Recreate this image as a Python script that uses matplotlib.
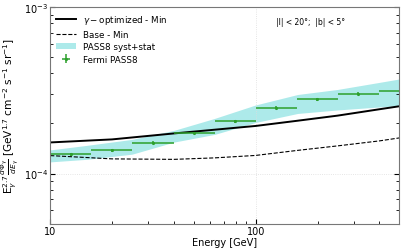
import numpy as np
import matplotlib
matplotlib.use("Agg")
import matplotlib.pyplot as plt
from matplotlib.ticker import FixedLocator, FixedFormatter, NullFormatter

# Fermi PASS8 data points (log bins of 0.2 dex)
bin_edges = [10.0, 15.85, 25.12, 39.81, 63.10, 100.0, 158.5, 251.2, 398.1, 631.0]
fermi_flux = [1.307e-4, 1.382e-4, 1.535e-4, 1.754e-4, 2.062e-4,
              2.488e-4, 2.794e-4, 3.02e-4, 3.15e-4]

# PASS8 syst+stat band
band_e = [10, 15, 25, 40, 63, 100, 160, 250, 400, 500]
band_hi = [1.387e-4, 1.476e-4, 1.604e-4, 1.817e-4, 2.143e-4,
           2.584e-4, 2.985e-4, 3.20e-4, 3.53e-4, 3.70e-4]
band_lo = [1.175e-4, 1.217e-4, 1.307e-4, 1.545e-4, 1.718e-4,
           2.028e-4, 2.296e-4, 2.41e-4, 2.512e-4, 2.558e-4]

# model curves
opt_e = [10, 20, 40, 100, 160, 250, 400, 500]
opt_flux = [1.538e-4, 1.604e-4, 1.742e-4, 1.932e-4, 2.077e-4, 2.228e-4, 2.434e-4, 2.537e-4]
base_e = [10, 20, 40, 63, 100, 160, 250, 400, 500]
base_flux = [1.282e-4, 1.225e-4, 1.217e-4, 1.242e-4, 1.285e-4, 1.378e-4, 1.466e-4, 1.571e-4, 1.637e-4]

x_ticks = [10, 100]
x_ticklabels = ['10', '100']

edges = np.array(bin_edges)
centers = np.sqrt(edges[:-1] * edges[1:])
xerr = [centers - edges[:-1], edges[1:] - centers]
yerr = np.array(fermi_flux) * 0.02

fig = plt.figure(figsize=(4.05, 2.53), dpi=100)
ax = fig.add_axes([0.124, 0.112, 0.862, 0.856])

ax.plot(opt_e, opt_flux, color='black', lw=1.4, label=r'$\gamma-$optimized - Min')
ax.plot(base_e, base_flux, color='black', lw=0.8, ls='--', label='Base - Min')
ax.fill_between(band_e, band_lo, band_hi, color='c', alpha=0.32, lw=0, label='PASS8 syst+stat')
ax.errorbar(centers, fermi_flux, xerr=xerr, yerr=yerr, fmt='.', ms=2.5, color='tab:green',
            elinewidth=1.1, capsize=0, label='Fermi PASS8')

ax.set_xscale('log')
ax.set_yscale('log')
ax.set_xlim(10, 500)
ax.set_ylim(5e-5, 1e-3)
ax.xaxis.set_major_locator(FixedLocator(x_ticks))
ax.xaxis.set_major_formatter(FixedFormatter(x_ticklabels))
ax.xaxis.set_minor_formatter(NullFormatter())
ax.grid(True, which='major', ls=':', color='#dddddd', lw=0.6)
ax.tick_params(which='both', direction='in', right=True, labelsize=7, pad=1.5)
ax.tick_params(which='major', length=3.5)
ax.tick_params(which='minor', length=2)
for s in ax.spines.values():
    s.set_color('#777777')

ax.set_xlabel('Energy [GeV]', fontsize=7, labelpad=1)
ax.set_ylabel(r'E$_\gamma^{2.7}\,\frac{d\Phi_\gamma}{dE_\gamma}$ [GeV$^{1.7}$ cm$^{-2}$ s$^{-1}$ sr$^{-1}$]',
              fontsize=7.6)
ax.yaxis.set_label_coords(-0.082, 0.5)
ax.text(0.745, 0.935, '|l| < 20°;  |b| < 5°', transform=ax.transAxes,
        ha='center', va='center', fontsize=5.5)
ax.legend(loc='upper left', frameon=False, fontsize=6.3, handlelength=2.2,
          labelspacing=0.4, borderaxespad=0.3)

fig.savefig('out.png', dpi=100)
